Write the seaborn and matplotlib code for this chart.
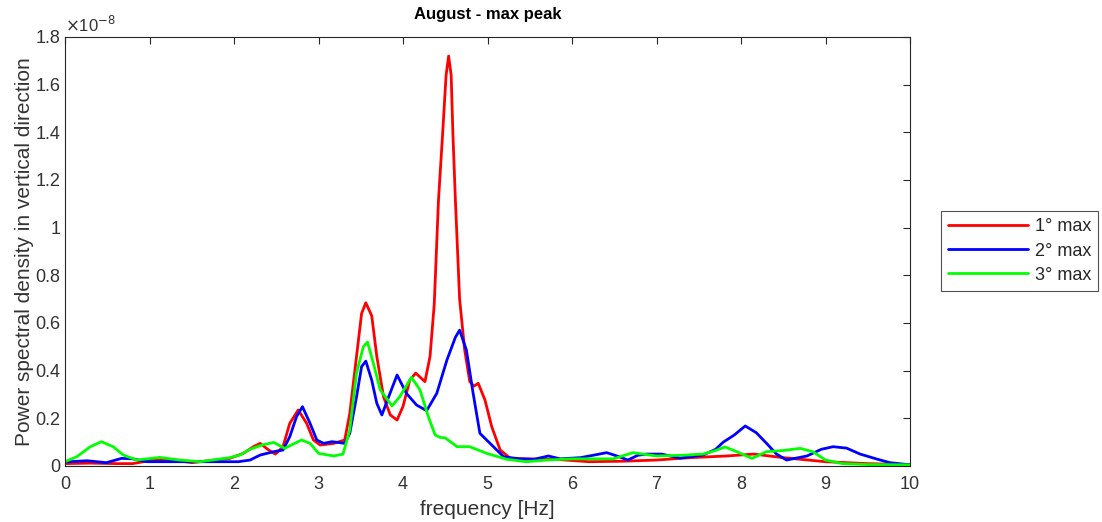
import numpy as np
import pandas as pd
import matplotlib
matplotlib.use("Agg")
import matplotlib.pyplot as plt
from matplotlib.ticker import FuncFormatter
import seaborn as sns

# values, y in units of 1e-8
freq_1 = [0, 0.3, 0.6, 0.8, 1.04, 1.28, 1.5, 1.95, 2.11, 2.23, 2.31, 2.41, 2.49, 2.58, 2.66,
          2.76, 2.86, 2.94, 3.02, 3.18, 3.31, 3.37, 3.45, 3.51, 3.56, 3.63, 3.69, 3.77, 3.85,
          3.93, 4.00, 4.08, 4.15, 4.26, 4.32, 4.37, 4.42, 4.47, 4.51, 4.54, 4.57, 4.59, 4.62,
          4.67, 4.73, 4.79, 4.84, 4.89, 4.97, 5.05, 5.15, 5.27, 5.46, 5.8, 6.2, 6.6, 7.0, 7.4,
          7.83, 8.15, 8.5, 9.0, 9.5, 10]
psd_1 = [0.01, 0.012, 0.01, 0.01, 0.025, 0.025, 0.014, 0.032, 0.053, 0.081, 0.095, 0.067,
         0.05, 0.081, 0.179, 0.235, 0.179, 0.109, 0.088, 0.095, 0.109, 0.22, 0.46, 0.64, 0.685,
         0.63, 0.46, 0.29, 0.214, 0.193, 0.25, 0.36, 0.39, 0.354, 0.46, 0.68, 1.116, 1.4, 1.64,
         1.72, 1.64, 1.4, 1.116, 0.70, 0.487, 0.354, 0.335, 0.347, 0.277, 0.165, 0.067, 0.032,
         0.03, 0.028, 0.018, 0.02, 0.025, 0.035, 0.042, 0.05, 0.035, 0.018, 0.01, 0.005]

freq_2 = [0, 0.26, 0.49, 0.67, 0.8, 0.97, 1.5, 2.05, 2.19, 2.31, 2.47, 2.58, 2.66, 2.74, 2.81,
          2.90, 2.98, 3.06, 3.16, 3.31, 3.37, 3.45, 3.51, 3.56, 3.63, 3.69, 3.75, 3.83, 3.93,
          4.04, 4.16, 4.28, 4.40, 4.52, 4.62, 4.67, 4.75, 4.83, 4.91, 5.03, 5.19, 5.38, 5.55,
          5.72, 5.86, 6.1, 6.25, 6.41, 6.55, 6.66, 6.78, 6.88, 7.06, 7.28, 7.55, 7.7, 7.79,
          7.92, 8.05, 8.18, 8.30, 8.42, 8.54, 8.78, 8.95, 9.09, 9.25, 9.41, 9.6, 9.76, 10]
psd_2 = [0.017, 0.022, 0.014, 0.032, 0.03, 0.018, 0.018, 0.018, 0.025, 0.046, 0.06, 0.067,
         0.123, 0.207, 0.249, 0.179, 0.109, 0.095, 0.102, 0.095, 0.137, 0.29, 0.417, 0.44,
         0.36, 0.263, 0.214, 0.29, 0.382, 0.305, 0.256, 0.232, 0.305, 0.445, 0.54, 0.57, 0.487,
         0.305, 0.137, 0.095, 0.039, 0.03, 0.028, 0.042, 0.03, 0.035, 0.045, 0.056, 0.04,
         0.025, 0.045, 0.05, 0.05, 0.033, 0.046, 0.07, 0.10, 0.13, 0.168, 0.14, 0.096, 0.05,
         0.025, 0.042, 0.07, 0.081, 0.075, 0.05, 0.03, 0.014, 0.005]

freq_3 = [0, 0.14, 0.30, 0.43, 0.57, 0.69, 0.85, 1.12, 1.36, 1.60, 1.95, 2.07, 2.19, 2.33,
          2.47, 2.60, 2.70, 2.80, 2.90, 3.0, 3.18, 3.29, 3.37, 3.45, 3.53, 3.58, 3.65, 3.73,
          3.87, 3.96, 4.10, 4.20, 4.30, 4.38, 4.44, 4.50, 4.64, 4.79, 4.99, 5.23, 5.46, 5.7,
          6.0, 6.3, 6.49, 6.72, 7.0, 7.3, 7.55, 7.7, 7.81, 7.95, 8.13, 8.3, 8.5, 8.70, 8.85,
          9.0, 9.2, 9.5, 10]
psd_3 = [0.018, 0.039, 0.081, 0.102, 0.081, 0.046, 0.025, 0.036, 0.025, 0.018, 0.035, 0.046,
         0.07, 0.088, 0.099, 0.074, 0.092, 0.109, 0.095, 0.053, 0.042, 0.05, 0.151, 0.39, 0.50,
         0.52, 0.43, 0.32, 0.252, 0.29, 0.372, 0.32, 0.207, 0.13, 0.12, 0.118, 0.081, 0.081,
         0.053, 0.028, 0.018, 0.025, 0.03, 0.03, 0.03, 0.056, 0.042, 0.045, 0.05, 0.065, 0.08,
         0.06, 0.032, 0.06, 0.065, 0.074, 0.06, 0.025, 0.01, 0.006, 0.005]

labels = ["1° max", "2° max", "3° max"]
colors = ["#ff0000", "#0000ff", "#00ff00"]

df = pd.concat([
    pd.DataFrame({"freq": freq_1, "psd": psd_1, "series": labels[0]}),
    pd.DataFrame({"freq": freq_2, "psd": psd_2, "series": labels[1]}),
    pd.DataFrame({"freq": freq_3, "psd": psd_3, "series": labels[2]}),
])

sns.set_style("white")
plt.rcParams["font.family"] = ["Liberation Sans", "DejaVu Sans"]

fig = plt.figure(figsize=(11.02, 5.22), dpi=100)
ax = fig.add_axes([65 / 1102, 56 / 522, 845 / 1102, 429 / 522])

sns.lineplot(data=df, x="freq", y="psd", hue="series", palette=colors,
             estimator=None, sort=False, linewidth=2.0, solid_joinstyle="round", ax=ax)

ax.set_xlim(0, 10)
ax.set_ylim(0, 1.8)
ax.set_xticks(np.arange(0, 11, 1))
ax.set_yticks(np.arange(0, 1.81, 0.2))
ax.yaxis.set_major_formatter(FuncFormatter(lambda v, p: "%g" % round(v, 1)))
ax.tick_params(direction="in", length=5, top=True, right=True, labelsize=13,
               color="#262626", labelcolor="#333333", width=0.8)
ax.tick_params(axis="x", pad=7)
for s in ax.spines.values():
    s.set_color("#262626")
    s.set_linewidth(0.8)

ax.set_xlabel("frequency [Hz]", fontsize=15, color="#333333", labelpad=5)
ax.set_ylabel("Power spectral density in vertical direction", fontsize=15,
              color="#333333", labelpad=1)
ax.set_title("August - max peak", fontsize=12, fontweight="bold", color="black", pad=13)
ax.text(0.0, 1.005, r"$\times$10$^{-8}$", transform=ax.transAxes, fontsize=12,
        color="#333333", ha="left", va="bottom")

leg = ax.legend(loc="center left", bbox_to_anchor=(941 / 1102, (522 - 251) / 522),
                bbox_transform=fig.transFigure, fontsize=13, frameon=True,
                fancybox=False, handlelength=4.4, handletextpad=0.4,
                labelspacing=0.4, borderaxespad=0)
leg.get_frame().set_edgecolor("#262626")
leg.get_frame().set_linewidth(0.8)

fig.savefig("out.png", dpi=100)
